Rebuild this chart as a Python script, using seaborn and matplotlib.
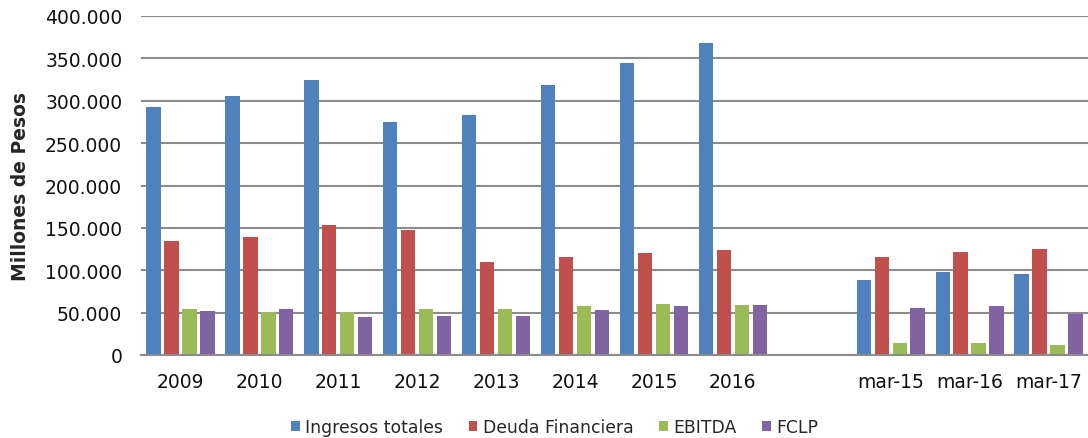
import numpy as np
import pandas as pd
import matplotlib
matplotlib.use("Agg")
import matplotlib.pyplot as plt
import seaborn as sns

categories = ["2009", "2010", "2011", "2012", "2013", "2014", "2015", "2016", " ", "mar-15", "mar-16", "mar-17"]
series_names = ["Ingresos totales", "Deuda Financiera", "EBITDA", "FCLP"]
ingresos = [293000, 306000, 324000, 275000, 283000, 319000, 344500, 368000, np.nan, 88000, 97500, 95000]
deuda = [135000, 139000, 153000, 148000, 110000, 116000, 120500, 123700, np.nan, 115500, 122000, 124500]
ebitda = [53800, 50700, 50300, 53800, 54600, 58100, 59700, 59000, np.nan, 13800, 13800, 12100]
fclp = [51500, 54600, 44400, 45600, 46400, 53200, 58000, 59000, np.nan, 55400, 58000, 48600]
colors = ["#4F81BD", "#C0504D", "#9BBB59", "#8064A2"]
yticks = [0, 50000, 100000, 150000, 200000, 250000, 300000, 350000, 400000]
ytick_labels = ["0", "50.000", "100.000", "150.000", "200.000", "250.000", "300.000", "350.000", "400.000"]

rows = []
for name, vals in zip(series_names, [ingresos, deuda, ebitda, fclp]):
    for c, v in zip(categories, vals):
        rows.append({"cat": c, "serie": name, "valor": v})
df = pd.DataFrame(rows)

sns.set_style("white")
plt.rcParams["font.family"] = ["DejaVu Sans"]

fig = plt.figure(figsize=(10.88, 4.39), dpi=100)
ax = fig.add_axes([141/1088, 1 - 356/439, 1 - 141/1088, (356 - 17)/439])

sns.barplot(data=df, x="cat", y="valor", hue="serie", order=categories,
            hue_order=series_names, palette=colors, width=0.91, gap=0.2,
            ax=ax, legend=True, saturation=1, edgecolor="none", errorbar=None)

ax.set_ylim(0, 400000)
ax.set_xlim(-0.5, len(categories) - 0.5)
ax.set_yticks(yticks)
ax.set_yticklabels(ytick_labels, fontsize=13.5, color="#111111")
ax.tick_params(axis="x", labelsize=13.5, colors="#111111", length=0, pad=12)
ax.tick_params(axis="y", length=0, pad=13.5)
ax.grid(axis="y", color="#8c8c8c", linewidth=1.5)
ax.set_axisbelow(True)
for s in ["left", "right", "top"]:
    ax.spines[s].set_visible(False)
ax.spines["bottom"].set_color("#8c8c8c")
ax.spines["bottom"].set_linewidth(1.5)
ax.set_xlabel("")
ax.set_ylabel("Millones de Pesos", fontsize=13.5, fontweight="bold", labelpad=11)

handles, labels = ax.get_legend_handles_labels()
ax.legend_.remove()
fig.legend(handles, labels, loc="center", bbox_to_anchor=(0.5097, 1 - 428/439), ncol=4,
           frameon=False, fontsize=12.4, handlelength=0.5, handleheight=0.5,
           handletextpad=0.3, columnspacing=1.5, borderpad=0)

fig.savefig("out.png", dpi=100)
